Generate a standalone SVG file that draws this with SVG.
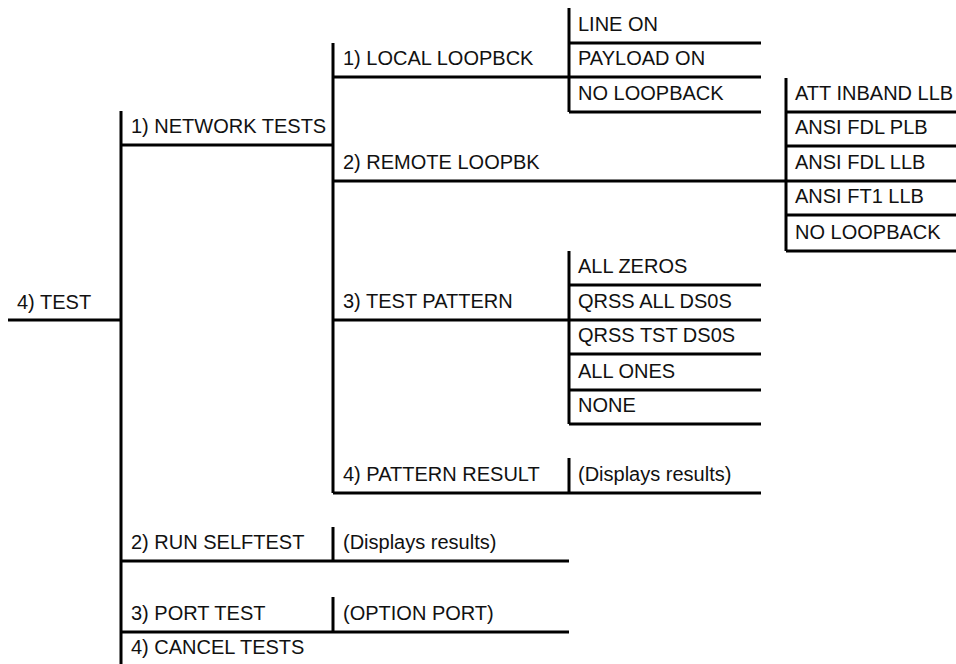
<svg xmlns="http://www.w3.org/2000/svg" width="956" height="664" viewBox="0 0 956 664">
<style>
text{font-family:"Liberation Sans",Arial,sans-serif;font-size:20px;fill:#111}
.ln{stroke:#000;stroke-width:3;fill:none;stroke-linecap:butt}
</style>
<rect width="956" height="664" fill="#fff"/>
<g id="connectors" class="ln">
<path d="M8 320H121M121 111V664M121 145H333M121 561H569M121 632H569"/>
<path d="M333 43V493M333 77H569M333 181H786M333 320H569M333 493H761"/>
<path d="M569 8V112M569 43H761M569 77H761M569 112H761"/>
<path d="M786 78V251M786 112H956M786 146H956M786 181H956M786 215H956M786 251H956"/>
<path d="M569 251V424M569 285H761M569 320H761M569 354H761M569 390H761M569 424H761"/>
<path d="M569 458V493M333 527V561M333 597V632"/>
</g>
<g id="test"><text x="17" y="309">4) TEST</text></g>
<g id="network-tests"><text x="131" y="133">1) NETWORK TESTS</text></g>
<g id="run-selftest"><text x="131" y="549">2) RUN SELFTEST</text></g>
<g id="selftest-result"><text x="343" y="549">(Displays results)</text></g>
<g id="port-test"><text x="131" y="620">3) PORT TEST</text></g>
<g id="option-port"><text x="343" y="620">(OPTION PORT)</text></g>
<g id="cancel-tests"><text x="131" y="654">4) CANCEL TESTS</text></g>
<g id="local-loopbck"><text x="343" y="65">1) LOCAL LOOPBCK</text></g>
<g id="line-on"><text x="578" y="31">LINE ON</text></g>
<g id="payload-on"><text x="578" y="65">PAYLOAD ON</text></g>
<g id="no-loopback-local"><text x="578" y="100">NO LOOPBACK</text></g>
<g id="remote-loopbk"><text x="343" y="169">2) REMOTE LOOPBK</text></g>
<g id="att-inband-llb"><text x="795" y="100">ATT INBAND LLB</text></g>
<g id="ansi-fdl-plb"><text x="795" y="134">ANSI FDL PLB</text></g>
<g id="ansi-fdl-llb"><text x="795" y="169">ANSI FDL LLB</text></g>
<g id="ansi-ft1-llb"><text x="795" y="203">ANSI FT1 LLB</text></g>
<g id="no-loopback-remote"><text x="795" y="239">NO LOOPBACK</text></g>
<g id="test-pattern"><text x="343" y="308">3) TEST PATTERN</text></g>
<g id="all-zeros"><text x="578" y="273">ALL ZEROS</text></g>
<g id="qrss-all-ds0s"><text x="578" y="308">QRSS ALL DS0S</text></g>
<g id="qrss-tst-ds0s"><text x="578" y="342">QRSS TST DS0S</text></g>
<g id="all-ones"><text x="578" y="378">ALL ONES</text></g>
<g id="none"><text x="578" y="412">NONE</text></g>
<g id="pattern-result"><text x="343" y="481">4) PATTERN RESULT</text></g>
<g id="pattern-result-display"><text x="578" y="481">(Displays results)</text></g>
</svg>
